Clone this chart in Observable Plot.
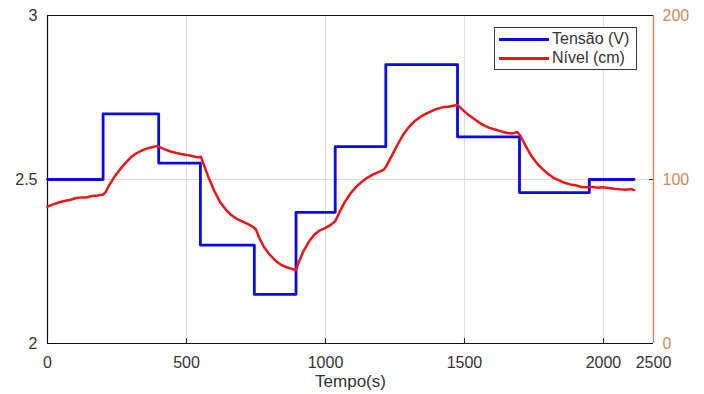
<!DOCTYPE html>
<html>
<head>
<meta charset="utf-8">
<script src="https://cdn.jsdelivr.net/npm/d3@7"></script>
<script src="https://cdn.jsdelivr.net/npm/@observablehq/plot@0.6"></script>
<style>
  html, body { margin: 0; padding: 0; background: #fff; }
  #wrap { position: relative; width: 704px; height: 394px; font-family: "Liberation Sans", Arial, sans-serif; }
  #legend { position: absolute; left: 494px; top: 27px; width: 141px; height: 41px; border: 1px solid #3a3a3a; background: #fff; font-size: 16px; color: #333; }
  .row { position: absolute; left: 4px; height: 20px; display: flex; align-items: center; }
  .sw { width: 50px; height: 3px; margin-right: 3px; }
</style>
</head>
<body>
<div id="wrap">
  <div id="chart"></div>
  <div id="legend">
    <div class="row" style="top:1px"><div class="sw" style="background:#0a0ae6"></div><span>Tensão (V)</span></div>
    <div class="row" style="top:20px"><div class="sw" style="background:#e8161b"></div><span>Nível (cm)</span></div>
  </div>
</div>
<script>
// Tensão (V) — step input
const stepTimes = [0, 200, 400, 550, 744, 894, 1035, 1217, 1475, 1698, 1949, 2110];
const stepVolts = [2.5, 2.7, 2.55, 2.3, 2.15, 2.4, 2.6, 2.85, 2.63, 2.46, 2.5, 2.5];

// Nível (cm) — measured level
const levelTimes = [0, 20, 40, 60, 80, 100, 120, 140, 160, 180, 200, 210, 220, 240, 260, 280, 300, 320, 340, 360, 380, 395, 400, 420, 440, 460, 480, 500, 520, 540, 552, 560, 580, 600, 620, 640, 660, 680, 700, 720, 740, 750, 760, 780, 800, 820, 840, 860, 880, 893, 900, 920, 940, 960, 980, 1000, 1020, 1035, 1050, 1070, 1090, 1110, 1130, 1150, 1170, 1190, 1210, 1220, 1240, 1260, 1280, 1300, 1320, 1340, 1360, 1380, 1400, 1420, 1440, 1460, 1475, 1490, 1510, 1530, 1550, 1570, 1590, 1610, 1630, 1650, 1670, 1690, 1700, 1720, 1740, 1760, 1780, 1800, 1820, 1840, 1860, 1880, 1900, 1920, 1940, 1960, 1980, 2000, 2020, 2040, 2060, 2080, 2100, 2110];
const levelValues = [83.5, 84.8, 86.0, 86.9, 87.5, 88.6, 89.1, 89.0, 90.0, 90.2, 90.8, 92.5, 96.0, 101.5, 106.0, 110.0, 113.5, 116.0, 117.8, 119.0, 119.8, 120.5, 120.0, 118.5, 117.2, 116.3, 115.5, 115.0, 114.3, 113.5, 113.8, 110.0, 101.0, 93.0, 86.5, 82.0, 78.5, 76.0, 74.5, 73.0, 71.0, 69.5, 65.0, 58.5, 54.0, 50.5, 48.0, 46.5, 45.5, 44.5, 48.0, 56.0, 62.0, 66.5, 69.0, 70.5, 72.5, 74.5, 80.0, 86.5, 91.5, 95.5, 98.5, 101.0, 103.0, 104.5, 106.0, 108.5, 115.0, 121.5, 127.5, 132.0, 135.5, 138.0, 140.0, 141.5, 143.0, 144.0, 144.3, 145.0, 145.5, 143.0, 140.0, 137.5, 135.0, 133.0, 131.5, 130.5, 129.5, 128.5, 128.0, 129.0, 127.0, 120.5, 114.5, 110.0, 106.5, 103.5, 101.0, 99.5, 98.0, 97.0, 96.5, 95.5, 95.3, 95.5, 95.0, 95.2, 94.8, 94.3, 94.0, 93.8, 94.2, 93.5];

// Axes
const xMax = 2180;
const xTicks = [0, 500, 1000, 1500, 2000, 2180];
const xTickLabels = ["0", "500", "1000", "1500", "2000", "2500"];
const xGrid = [500, 1000, 1500, 2000];
const xLabel = "Tempo(s)";
const yLeftTicks = [2, 2.5, 3];
const yRightTicks = [0, 100, 200];
const rightMax = 200;

const toLeft = v => 2 + v / rightMax;
const steps = stepTimes.map((t, i) => ({t, v: stepVolts[i]}));
const level = levelTimes.map((t, i) => ({t, v: toLeft(levelValues[i])}));
const rightColor = "#cf8a5c";

const chart = Plot.plot({
  width: 704,
  height: 394,
  marginLeft: 47,
  marginRight: 51,
  marginTop: 15,
  marginBottom: 51,
  style: {fontFamily: "Liberation Sans, Arial, sans-serif", fontSize: "16px", color: "#333", background: "white", overflow: "visible"},
  x: {domain: [0, xMax]},
  y: {domain: [2, 3]},
  marks: [
    Plot.ruleX(xGrid, {stroke: "#dcdcdc", strokeWidth: 1}),
    Plot.ruleY([2.5], {stroke: "#dcdcdc", strokeWidth: 1}),
    // x axis labels
    Plot.axisX({ticks: xTicks, tickFormat: d => xTickLabels[xTicks.indexOf(d)], tickSize: 0, tickPadding: 13,
      label: null, fill: "#333"}),
    Plot.axisX({ticks: xGrid, tickFormat: () => "", tickSize: 5, dy: -5, label: null, stroke: "#222"}),
    Plot.text([xLabel], {text: d => d, frameAnchor: "bottom", dy: 43, fontSize: 17, fill: "#333"}),
    // left axis
    Plot.axisY({ticks: yLeftTicks, tickFormat: d => String(d), tickSize: 0, tickPadding: 10, label: null, fill: "#333"}),
    Plot.axisY({ticks: [2.5], tickFormat: () => "", tickSize: 5, dx: 5, label: null, stroke: "#222"}),
    // right axis
    Plot.axisY({anchor: "right", ticks: yRightTicks.map(toLeft), tickFormat: d => String(Math.round((d - 2) * rightMax)),
      tickSize: 0, tickPadding: 9, label: null, fill: rightColor}),
    Plot.axisY({anchor: "right", ticks: [toLeft(100)], tickFormat: () => "", tickSize: 5, dx: -5, label: null, stroke: "#333"}),
    // frame
    Plot.ruleY([2, 3], {stroke: "#111", strokeWidth: 1.2}),
    Plot.ruleX([0], {stroke: "#111", strokeWidth: 1.2}),
    Plot.ruleX([xMax], {stroke: rightColor, strokeWidth: 1.4}),
    // data
    Plot.line(steps, {x: "t", y: "v", curve: "step-after", stroke: "#0a0ae6", strokeWidth: 2.8}),
    Plot.line(level, {x: "t", y: "v", stroke: "#e8161b", strokeWidth: 2.5})
  ]
});
document.getElementById("chart").appendChild(chart);
</script>
</body>
</html>
